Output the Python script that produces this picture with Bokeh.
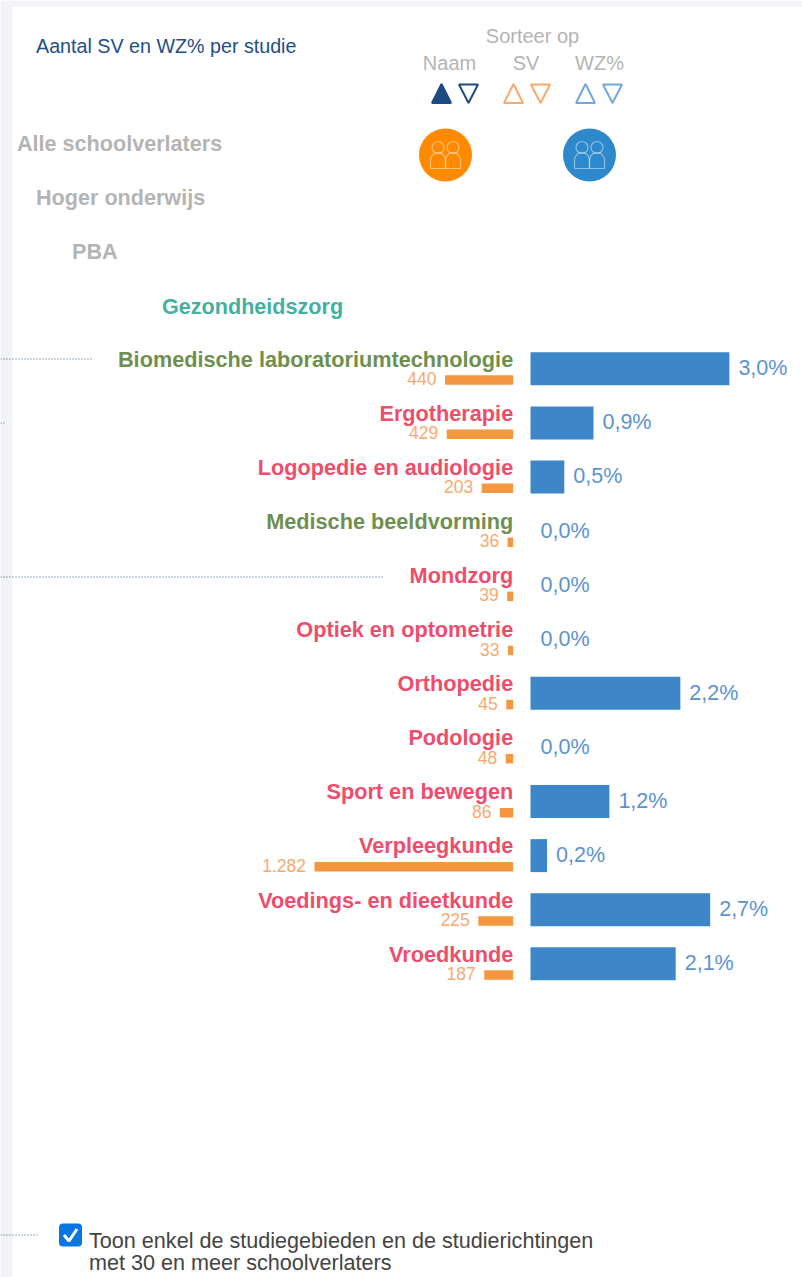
from bokeh.plotting import figure
from bokeh.models import Range1d
from bokeh.core.properties import value
from bokeh.embed import file_html
from bokeh.resources import INLINE
import math

names = ["Biomedische laboratoriumtechnologie", "Ergotherapie", "Logopedie en audiologie",
         "Medische beeldvorming", "Mondzorg", "Optiek en optometrie", "Orthopedie", "Podologie",
         "Sport en bewegen", "Verpleegkunde", "Voedings- en dieetkunde", "Vroedkunde"]
name_colors = ["#6f8f4e", "#ee4d6b", "#ee4d6b", "#6f8f4e", "#ee4d6b", "#ee4d6b", "#ee4d6b",
               "#ee4d6b", "#ee4d6b", "#ee4d6b", "#ee4d6b", "#ee4d6b"]
sv = [440, 429, 203, 36, 39, 33, 45, 48, 86, 1282, 225, 187]
sv_labels = ["440", "429", "203", "36", "39", "33", "45", "48", "86", "1.282", "225", "187"]
wz = [3.0, 0.95, 0.51, 0, 0, 0, 2.26, 0, 1.19, 0.25, 2.71, 2.19]
wz_labels = ["3,0%", "0,9%", "0,5%", "0,0%", "0,0%", "0,0%", "2,2%", "0,0%", "1,2%", "0,2%", "2,7%", "2,1%"]

FONT = value("Liberation Sans")
L, R, T, B = 0, 802, 0, 1277
p = figure(width=R - L, height=B - T, x_range=(L, R), y_range=(B, T), output_backend="svg",
           toolbar_location=None, min_border=0, outline_line_color=None)
p.xaxis.visible = False
p.yaxis.visible = False
p.grid.visible = False

# value scales: zero point and pixels per unit
WZ0, WZS = 530, 66.3
SV0, SVS = 512.7, 0.155
p.extra_x_ranges = {
    "wz": Range1d((L - WZ0) / WZS, (R - WZ0) / WZS),
    "sv": Range1d((SV0 - L) / SVS, (SV0 - R) / SVS),
}

def txt(x, y, s, color, size, bold=False, align="left"):
    p.text([x], [y], text=[s], text_color=color, text_font=FONT, text_font_size=f"{size}px",
           text_font_style="bold" if bold else "normal", text_align=align, text_baseline="middle")

# page strip
p.quad(left=[L], right=[12], top=[T], bottom=[B], fill_color="#f1f3f6", line_color=None)
p.quad(left=[L], right=[R], top=[T], bottom=[6], fill_color="#f1f3f6", line_color=None)

# dotted leader lines
for x1, y in [(91, 358), (4, 422), (382, 576), (37, 1234)]:
    p.line([L, x1], [y + 0.5, y + 0.5], line_color="#3b5a80", line_width=1, line_dash="1 2")

# header
txt(35.5, 45, "Aantal SV en WZ% per studie", "#1f4e86", 19.7)
txt(532, 35.5, "Sorteer op", "#b4b4b4", 20, align="center")
txt(449, 62.5, "Naam", "#b4b4b4", 20, align="center")
txt(525.5, 62.5, "SV", "#b4b4b4", 20, align="center")
txt(599, 62.5, "WZ%", "#b4b4b4", 20, align="center")

NAVY, ORANGE_T, BLUE_T = "#1d4a80", "#f9a96e", "#6fa8dc"

def tri_up(cx, fill, line):
    p.patch([cx - 9.5, cx + 9.5, cx], [102.5, 102.5, 83.5], fill_color=fill, line_color=line, line_width=2)

def tri_down(cx, fill, line):
    p.patch([cx - 9.5, cx + 9.5, cx], [84, 84, 102.5], fill_color=fill, line_color=line, line_width=2)

tri_up(441, NAVY, NAVY)
tri_down(468, "white", NAVY)
tri_up(513, "white", ORANGE_T)
tri_down(540, "white", ORANGE_T)
tri_up(585, "white", BLUE_T)
tri_down(612, "white", BLUE_T)

# hierarchy
txt(16.5, 142.5, "Alle schoolverlaters", "#b4b4b4", 21.6, True)
txt(35.5, 196.5, "Hoger onderwijs", "#b4b4b4", 21.6, True)
txt(71.5, 250.5, "PBA", "#b4b4b4", 21.6, True)
txt(161.5, 305.5, "Gezondheidszorg", "#45b0a0", 21.6, True)

# round icons
def person(cx, top):
    t = [i / 12 * math.pi for i in range(13)]
    xs = [cx + 7.5 * math.cos(a) for a in t] + [cx - 7.5, cx + 7.5, cx + 7.5]
    ys = [top + 8 - 8 * math.sin(a) for a in t] + [top + 16, top + 16, top + 8]
    p.line(xs, ys, line_color="white", line_alpha=0.45, line_width=1.2)
    p.circle([cx], [top - 5], radius=6, fill_color=None, line_color="white", line_alpha=0.45, line_width=1.2)

for cx, col in [(445, "#ff8a00"), (589, "#2e88cc")]:
    p.circle([cx], [154.5], radius=26.5, fill_color=col, line_color=None)
    person(cx - 7.5, 152)
    person(cx + 7.5, 152)

# rows
PITCH, Y0 = 54.09, 368.3
ys = [Y0 + PITCH * i for i in range(len(names))]
p.quad(left=[0] * len(wz), right=wz, top=[y - 16.5 for y in ys], bottom=[y + 16.5 for y in ys],
       x_range_name="wz", fill_color="#3d86c8", line_color=None)
p.quad(left=[0] * len(sv), right=sv, top=[y + 6.5 for y in ys], bottom=[y + 16 for y in ys],
       x_range_name="sv", fill_color="#f59640", line_color=None)

for i, y in enumerate(ys):
    txt(512.7, y - 9.7, names[i], name_colors[i], 21.7, True, "right")
    txt(SV0 - sv[i] * SVS - 8.5, y + 9.8, sv_labels[i], "#f9a96e", 17.5, False, "right")
    px = WZ0 + wz[i] * WZS + 9 if wz[i] else 540
    txt(px, y - 0.5, wz_labels[i], "#5b93cf", 21.5)

# checkbox
p.quad(left=[58.5], right=[81.5], top=[1223], bottom=[1246], fill_color="#0b75e0", line_color=None,
       border_radius=4)
p.line([63.5, 68.5, 76.5], [1234.5, 1240.5, 1228.5], line_color="white", line_width=3)
txt(88.5, 1240, "Toon enkel de studiegebieden en de studierichtingen", "#444444", 21.6)
txt(88.5, 1262, "met 30 en meer schoolverlaters", "#444444", 21.6)

open("out.html", "w").write(file_html(p, INLINE))
